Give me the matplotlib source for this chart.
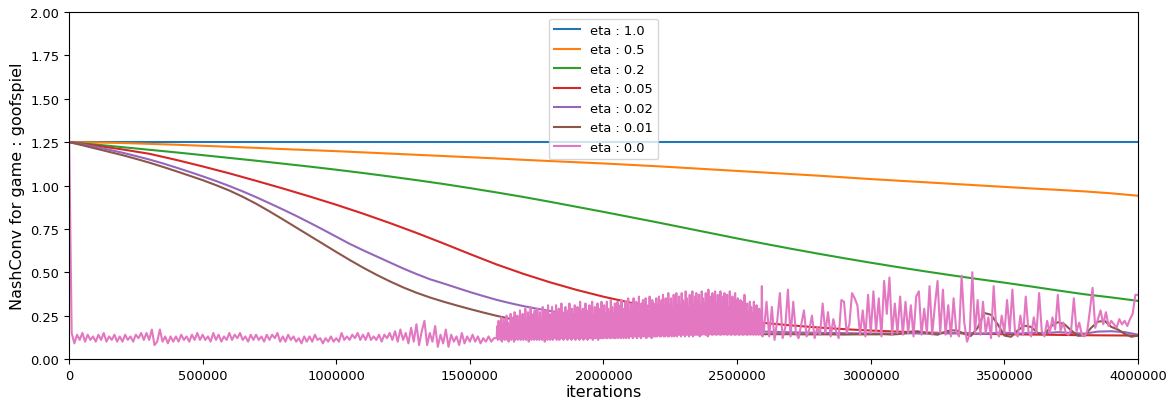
import numpy as np
import matplotlib
matplotlib.use("Agg")
import matplotlib.pyplot as plt

labels = ["eta : 1.0", "eta : 0.5", "eta : 0.2", "eta : 0.05", "eta : 0.02", "eta : 0.01", "eta : 0.0"]
colors = ["#1f77b4", "#ff7f0e", "#2ca02c", "#d62728", "#9467bd", "#8c564b", "#e377c2"]

# iterations for series sampled every 100000
iters_100k = np.arange(0, 4_000_001, 100_000)

eta_1_0 = [1.25, 1.25, 1.25, 1.25, 1.25, 1.25, 1.25, 1.25, 1.25, 1.25,
           1.25, 1.25, 1.25, 1.25, 1.25, 1.25, 1.25, 1.25, 1.25, 1.25,
           1.25, 1.25, 1.25, 1.25, 1.25, 1.25, 1.25, 1.25, 1.25, 1.25,
           1.25, 1.25, 1.25, 1.25, 1.25, 1.25, 1.25, 1.25, 1.25, 1.25, 1.25]

eta_0_5 = [1.250, 1.248, 1.245, 1.240, 1.235, 1.229, 1.223, 1.217, 1.210, 1.204,
           1.198, 1.191, 1.184, 1.177, 1.170, 1.163, 1.156, 1.148, 1.141, 1.134,
           1.127, 1.119, 1.111, 1.102, 1.093, 1.084, 1.075, 1.066, 1.057, 1.047,
           1.037, 1.028, 1.019, 1.010, 1.001, 0.992, 0.983, 0.975, 0.966, 0.955, 0.941]

eta_0_2 = [1.250, 1.236, 1.221, 1.206, 1.191, 1.175, 1.159, 1.143, 1.126, 1.109,
           1.091, 1.072, 1.052, 1.031, 1.009, 0.985, 0.960, 0.934, 0.906, 0.877,
           0.848, 0.818, 0.788, 0.757, 0.726, 0.695, 0.665, 0.636, 0.608, 0.581,
           0.555, 0.530, 0.506, 0.483, 0.461, 0.440, 0.418, 0.395, 0.373, 0.355, 0.335]

eta_0_05 = [1.250, 1.230, 1.208, 1.183, 1.148, 1.110, 1.070, 1.027, 0.983, 0.937,
            0.889, 0.838, 0.784, 0.727, 0.667, 0.605, 0.545, 0.491, 0.442, 0.398,
            0.359, 0.325, 0.295, 0.268, 0.245, 0.225, 0.208, 0.194, 0.182, 0.172,
            0.164, 0.158, 0.153, 0.149, 0.146, 0.143, 0.141, 0.139, 0.137, 0.136, 0.135]

# sampled every 50000
iters_50k = np.arange(0, 4_000_001, 50_000)
eta_0_02 = [1.250, 1.237, 1.222, 1.206, 1.189, 1.170, 1.150, 1.128, 1.104, 1.079,
            1.053, 1.026, 0.997, 0.966, 0.933, 0.898, 0.862, 0.825, 0.786, 0.746,
            0.705, 0.664, 0.627, 0.592, 0.557, 0.522, 0.490, 0.460, 0.436, 0.411,
            0.386, 0.363, 0.341, 0.322, 0.305, 0.290, 0.277, 0.264, 0.252, 0.240,
            0.229, 0.219, 0.210, 0.202, 0.195, 0.189, 0.183, 0.178, 0.173, 0.168,
            0.164, 0.161, 0.158, 0.156, 0.154, 0.152, 0.151, 0.150, 0.149, 0.148,
            0.147, 0.147, 0.146, 0.148, 0.146, 0.150, 0.147, 0.151, 0.145, 0.149,
            0.152, 0.146, 0.151, 0.148, 0.155, 0.150, 0.146, 0.158, 0.160, 0.155, 0.140]

# eta 0.01: every 50000 up to 2950000, then every 25000
iters_brown = np.concatenate([np.arange(0, 3_000_000, 50_000),
                              np.arange(3_000_000, 4_000_001, 25_000)])
eta_0_01 = [1.250, 1.232, 1.213, 1.194, 1.175, 1.154, 1.132, 1.108, 1.083, 1.057,
            1.031, 1.002, 0.971, 0.935, 0.895, 0.851, 0.805, 0.758, 0.711, 0.664,
            0.617, 0.571, 0.527, 0.486, 0.448, 0.413, 0.382, 0.355, 0.331, 0.309,
            0.288, 0.268, 0.249, 0.232, 0.217, 0.204, 0.193, 0.184, 0.177, 0.171,
            0.166, 0.162, 0.158, 0.155, 0.152, 0.150, 0.148, 0.147, 0.146, 0.145,
            0.144, 0.144, 0.143, 0.143, 0.143, 0.142, 0.142, 0.142, 0.141, 0.142,
            0.142, 0.142, 0.143, 0.141, 0.143, 0.148, 0.158, 0.160, 0.152, 0.145,
            0.140, 0.155, 0.166, 0.163, 0.145, 0.133, 0.180, 0.265, 0.255, 0.200,
            0.135, 0.128, 0.165, 0.192, 0.185, 0.150, 0.140, 0.190, 0.212, 0.200,
            0.165, 0.134, 0.136, 0.180, 0.215, 0.220, 0.185, 0.170, 0.145, 0.128, 0.135]

# eta 0.0: every 10000 before 1.6M, every 2500 in the dense band, every 10000 after 2.6M
iters_pink = np.concatenate([np.arange(0, 1_600_000, 10_000),
                             np.arange(1_600_000, 2_600_000, 2_500),
                             np.arange(2_600_000, 4_000_001, 10_000)])
eta_0_0 = [
    # 0 - 1.6M
    1.33, 0.15, 0.09, 0.14, 0.11, 0.15, 0.10, 0.14, 0.11, 0.13,
    0.10, 0.14, 0.11, 0.15, 0.10, 0.13, 0.11, 0.14, 0.10, 0.13,
    0.10, 0.14, 0.11, 0.13, 0.10, 0.14, 0.12, 0.15, 0.11, 0.15,
    0.11, 0.17, 0.08, 0.10, 0.17, 0.10, 0.13, 0.09, 0.13, 0.10,
    0.13, 0.10, 0.14, 0.11, 0.13, 0.10, 0.14, 0.11, 0.15, 0.11,
    0.14, 0.11, 0.13, 0.10, 0.15, 0.11, 0.14, 0.10, 0.13, 0.11,
    0.15, 0.11, 0.14, 0.12, 0.15, 0.11, 0.13, 0.10, 0.14, 0.11,
    0.14, 0.11, 0.13, 0.10, 0.14, 0.11, 0.14, 0.12, 0.15, 0.10,
    0.13, 0.10, 0.14, 0.11, 0.13, 0.10, 0.12, 0.09, 0.13, 0.10,
    0.13, 0.10, 0.14, 0.11, 0.12, 0.09, 0.12, 0.10, 0.13, 0.10,
    0.12, 0.10, 0.15, 0.11, 0.13, 0.11, 0.14, 0.12, 0.15, 0.11,
    0.14, 0.11, 0.15, 0.11, 0.13, 0.11, 0.14, 0.10, 0.14, 0.12,
    0.15, 0.11, 0.16, 0.10, 0.17, 0.11, 0.15, 0.09, 0.18, 0.10,
    0.20, 0.08, 0.16, 0.22, 0.08, 0.15, 0.10, 0.19, 0.07, 0.14,
    0.09, 0.17, 0.07, 0.14, 0.10, 0.13, 0.08, 0.15, 0.09, 0.13,
    0.10, 0.14, 0.10, 0.13, 0.09, 0.12, 0.10, 0.13, 0.10, 0.12,
    # 1.6M - 2.6M (every 2500)
    0.12, 0.19, 0.11, 0.22, 0.12, 0.17, 0.11, 0.24, 0.10, 0.20, 0.12, 0.23, 0.11, 0.18, 0.12, 0.25, 0.11, 0.21, 0.10, 0.19,
    0.12, 0.26, 0.11, 0.20, 0.12, 0.24, 0.10, 0.27, 0.11, 0.21, 0.12, 0.25, 0.11, 0.19, 0.12, 0.28, 0.11, 0.22, 0.12, 0.26,
    0.11, 0.23, 0.12, 0.29, 0.11, 0.21, 0.12, 0.27, 0.10, 0.24, 0.12, 0.30, 0.11, 0.22, 0.12, 0.26, 0.11, 0.28, 0.12, 0.23,
    0.11, 0.29, 0.12, 0.24, 0.11, 0.27, 0.12, 0.21, 0.11, 0.30, 0.12, 0.25, 0.10, 0.28, 0.12, 0.23, 0.11, 0.31, 0.12, 0.26,
    0.11, 0.24, 0.12, 0.30, 0.11, 0.27, 0.12, 0.22, 0.12, 0.31, 0.11, 0.26, 0.12, 0.29, 0.11, 0.24, 0.12, 0.32, 0.12, 0.27,
    0.11, 0.25, 0.12, 0.30, 0.12, 0.23, 0.11, 0.28, 0.12, 0.32, 0.12, 0.26, 0.11, 0.29, 0.12, 0.24, 0.12, 0.31, 0.11, 0.27,
    0.12, 0.30, 0.12, 0.25, 0.11, 0.33, 0.12, 0.27, 0.12, 0.29, 0.11, 0.24, 0.12, 0.32, 0.12, 0.28, 0.11, 0.26, 0.12, 0.31,
    0.12, 0.27, 0.12, 0.33, 0.11, 0.25, 0.12, 0.30, 0.12, 0.28, 0.12, 0.32, 0.11, 0.26, 0.12, 0.29, 0.12, 0.33, 0.12, 0.27,
    0.12, 0.31, 0.13, 0.26, 0.12, 0.33, 0.12, 0.29, 0.13, 0.27, 0.12, 0.34, 0.12, 0.30, 0.13, 0.26, 0.12, 0.32, 0.12, 0.28,
    0.13, 0.33, 0.12, 0.27, 0.13, 0.31, 0.12, 0.34, 0.13, 0.29, 0.12, 0.26, 0.13, 0.33, 0.12, 0.30, 0.13, 0.35, 0.12, 0.28,
    0.13, 0.32, 0.13, 0.29, 0.12, 0.35, 0.13, 0.27, 0.13, 0.33, 0.12, 0.30, 0.13, 0.36, 0.13, 0.28, 0.12, 0.32, 0.13, 0.34,
    0.13, 0.29, 0.13, 0.35, 0.12, 0.31, 0.13, 0.27, 0.13, 0.36, 0.13, 0.30, 0.12, 0.34, 0.13, 0.32, 0.13, 0.28, 0.13, 0.35,
    0.13, 0.31, 0.14, 0.36, 0.13, 0.29, 0.13, 0.34, 0.14, 0.37, 0.13, 0.30, 0.13, 0.35, 0.14, 0.32, 0.13, 0.38, 0.13, 0.31,
    0.14, 0.35, 0.13, 0.29, 0.14, 0.37, 0.13, 0.33, 0.14, 0.38, 0.13, 0.31, 0.14, 0.36, 0.14, 0.30, 0.13, 0.38, 0.14, 0.34,
    0.14, 0.32, 0.13, 0.39, 0.14, 0.35, 0.14, 0.30, 0.13, 0.37, 0.14, 0.33, 0.14, 0.39, 0.13, 0.31, 0.14, 0.36, 0.14, 0.38,
    0.14, 0.33, 0.14, 0.37, 0.13, 0.31, 0.14, 0.39, 0.14, 0.35, 0.15, 0.32, 0.14, 0.38, 0.14, 0.34, 0.13, 0.40, 0.14, 0.36,
    0.15, 0.31, 0.14, 0.38, 0.14, 0.35, 0.15, 0.39, 0.14, 0.32, 0.14, 0.37, 0.15, 0.34, 0.14, 0.39, 0.14, 0.31, 0.15, 0.36,
    0.14, 0.38, 0.15, 0.33, 0.14, 0.37, 0.14, 0.30, 0.15, 0.39, 0.14, 0.34, 0.14, 0.36, 0.15, 0.31, 0.14, 0.38, 0.14, 0.33,
    0.15, 0.35, 0.14, 0.30, 0.14, 0.34, 0.15, 0.28, 0.14, 0.33, 0.14, 0.37, 0.15, 0.29, 0.14, 0.32, 0.14, 0.27, 0.15, 0.33,
    0.14, 0.30, 0.15, 0.26, 0.14, 0.33, 0.15, 0.28, 0.14, 0.31, 0.15, 0.24, 0.14, 0.29, 0.16, 0.22, 0.14, 0.42, 0.13, 0.18,
    # 2.6M - 4.0M
    0.16, 0.33, 0.13, 0.30, 0.11, 0.22, 0.38, 0.12, 0.18, 0.40,
    0.13, 0.33, 0.15, 0.12, 0.20, 0.28, 0.13, 0.17, 0.25, 0.12,
    0.18, 0.14, 0.32, 0.15, 0.27, 0.13, 0.23, 0.16, 0.12, 0.34,
    0.33, 0.15, 0.20, 0.38, 0.35, 0.31, 0.14, 0.28, 0.13, 0.37,
    0.15, 0.39, 0.16, 0.35, 0.13, 0.45, 0.26, 0.47, 0.14, 0.32,
    0.15, 0.36, 0.14, 0.33, 0.15, 0.31, 0.13, 0.36, 0.39, 0.14,
    0.29, 0.15, 0.42, 0.14, 0.31, 0.45, 0.15, 0.40, 0.14, 0.31,
    0.13, 0.35, 0.16, 0.13, 0.48, 0.21, 0.10, 0.14, 0.50, 0.15,
    0.34, 0.14, 0.33, 0.15, 0.24, 0.12, 0.42, 0.16, 0.13, 0.25,
    0.15, 0.34, 0.16, 0.40, 0.15, 0.13, 0.25, 0.14, 0.36, 0.16,
    0.13, 0.24, 0.15, 0.38, 0.16, 0.13, 0.22, 0.15, 0.24, 0.17,
    0.37, 0.16, 0.21, 0.15, 0.14, 0.17, 0.35, 0.16, 0.21, 0.14,
    0.13, 0.16, 0.28, 0.41, 0.18, 0.23, 0.28, 0.20, 0.27, 0.19,
    0.22, 0.20, 0.18, 0.23, 0.20, 0.22, 0.19, 0.23, 0.26, 0.37,
    0.37]
assert len(eta_0_0) == len(iters_pink)
assert len(eta_0_01) == len(iters_brown)

xticks = [0, 500000, 1000000, 1500000, 2000000, 2500000, 3000000, 3500000, 4000000]
yticks = [0.00, 0.25, 0.50, 0.75, 1.00, 1.25, 1.50, 1.75, 2.00]

fig = plt.figure(figsize=(11.72, 4.06), dpi=100)
ax = fig.add_axes([69 / 1172, 1 - 360 / 406, (1138 - 69) / 1172, (360 - 13) / 406])

series = [(iters_100k, eta_1_0), (iters_100k, eta_0_5), (iters_100k, eta_0_2),
          (iters_100k, eta_0_05), (iters_50k, eta_0_02), (iters_brown, eta_0_01),
          (iters_pink, eta_0_0)]
for (xs, ys), lab, c in zip(series, labels, colors):
    ax.plot(xs, ys, color=c, label=lab, linewidth=1.5)

ax.set_xlim(0, 4000000)
ax.set_ylim(0, 2.0)
ax.set_xticks(xticks)
ax.set_xticklabels([str(t) for t in xticks])
ax.set_yticks(yticks)
ax.set_yticklabels([f"{t:.2f}" for t in yticks])
ax.tick_params(labelsize=9.4)
ax.set_xlabel("iterations", fontsize=11.5, labelpad=2)
ax.set_ylabel("NashConv for game : goofspiel", fontsize=11.5)
ax.legend(loc="upper center", fontsize=9.4)

fig.savefig("out.png", dpi=100)
